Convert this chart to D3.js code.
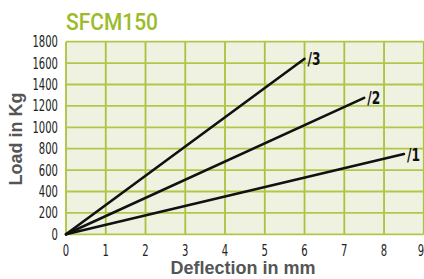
<!DOCTYPE html>
<html><head><meta charset="utf-8">
<script src="https://cdn.jsdelivr.net/npm/d3@7"></script>
<style>body{margin:0;background:#fff}svg{display:block}</style>
</head><body>
<script>
const xTicks = [0,1,2,3,4,5,6,7,8,9];
const yTicks = [0,200,400,600,800,1000,1200,1400,1600,1800];
const seriesNames = ["/1","/2","/3"];
const seriesEndX = [8.5, 7.5, 6.0];
const seriesEndY = [750, 1275, 1640];

const W=424,H=279;
const svg=d3.select("body").append("svg").attr("width",W).attr("height",H);
const x=d3.scaleLinear().domain([0,9]).range([66,423.8]);
const y=d3.scaleLinear().domain([0,1800]).range([234.3,41.7]);
const cond="'DejaVu Sans Condensed','Liberation Sans',sans-serif";
const SX=0.72;

svg.append("rect").attr("x",x(0)).attr("y",y(1800)).attr("width",x(9)-x(0)).attr("height",y(0)-y(1800)).attr("fill","#eff2e1");
const g=svg.append("g");
xTicks.forEach(t=>g.append("line").attr("x1",x(t)).attr("x2",x(t)).attr("y1",y(0)).attr("y2",y(1800)).attr("stroke","#a8c23c").attr("stroke-width",1.8));
yTicks.forEach(t=>g.append("line").attr("x1",x(0)).attr("x2",x(9)).attr("y1",y(t)).attr("y2",y(t)).attr("stroke","#b0c84a").attr("stroke-width",1.8));

// tick labels (narrow)
xTicks.forEach((t,i)=>{
  const px = i===xTicks.length-1 ? 421 : x(t);
  svg.append("g").attr("transform",`translate(${px},${y(0)+21.5}) scale(${SX},1)`)
    .append("text").attr("text-anchor","middle").text(d3.format("d")(t))
    .attr("font-family",cond).attr("font-size",15.5).attr("fill","#222");
});
yTicks.forEach(t=>{
  svg.append("g").attr("transform",`translate(58,${y(t)+5.5}) scale(${SX},1)`)
    .append("text").attr("text-anchor","end").text(d3.format("d")(t))
    .attr("font-family",cond).attr("font-size",15.5).attr("fill","#222");
});

// lines
seriesNames.forEach((n,i)=>{
  svg.append("line").attr("x1",x(0)).attr("y1",y(0)).attr("x2",x(seriesEndX[i])).attr("y2",y(seriesEndY[i])).attr("stroke","#111").attr("stroke-width",2.6).attr("stroke-linecap","round");
  svg.append("g").attr("transform",`translate(${x(seriesEndX[i])+3},${y(seriesEndY[i])+6.5}) scale(0.8,1)`)
    .append("text").text(n).attr("font-family",cond).attr("font-weight","bold").attr("font-size",17).attr("fill","#111");
});

svg.append("text").attr("x",66).attr("y",29.5).text("SFCM150").attr("font-family","Roboto,'DejaVu Sans',sans-serif").attr("font-weight",500).attr("font-size",24).attr("textLength",92).attr("lengthAdjust","spacingAndGlyphs").attr("fill","#9cbb2a");
svg.append("text").attr("x",243).attr("y",274).attr("text-anchor","middle").text("Deflection in mm").attr("font-family","'Liberation Sans',Arial,sans-serif").attr("font-weight","bold").attr("font-size",18).attr("fill","#555");
svg.append("text").attr("transform","translate(22,139) rotate(-90)").attr("text-anchor","middle").text("Load in Kg").attr("font-family","'Liberation Sans',Arial,sans-serif").attr("font-weight","bold").attr("font-size",18).attr("fill","#555");
</script>
</body></html>
